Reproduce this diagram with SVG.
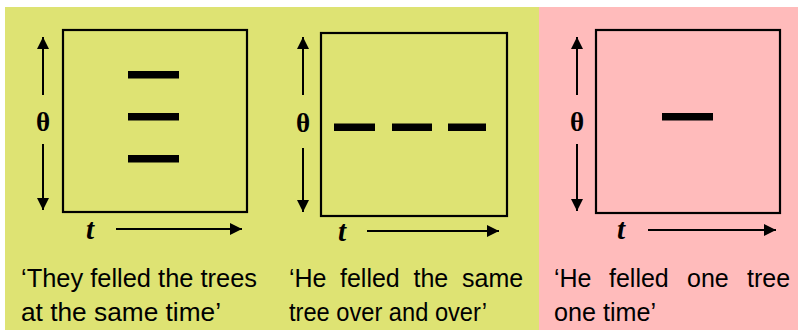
<svg xmlns="http://www.w3.org/2000/svg" width="798" height="330" viewBox="0 0 798 330">
  <defs>
    <marker id="ah" viewBox="0 0 12 12" markerWidth="12" markerHeight="12" markerUnits="userSpaceOnUse" refX="12" refY="6" orient="auto">
      <path d="M0,0 L12,6 L0,12 z" fill="#000"/>
    </marker>
    <style>
      .frame { fill: none; stroke: #000; stroke-width: 2.2; }
      .bar { fill: #000; }
      .ax { stroke: #000; stroke-width: 2; fill: none; marker-end: url(#ah); }
      .theta { font-family: "Liberation Serif", serif; font-weight: bold; font-size: 27px; text-anchor: middle; }
      .tt { font-family: "Liberation Serif", serif; font-weight: bold; font-style: italic; font-size: 29px; text-anchor: middle; }
      .cap { font-family: "Liberation Sans", "DejaVu Sans", sans-serif; font-size: 25px; fill: #000; }
    </style>
  </defs>
  <rect x="0" y="0" width="798" height="330" fill="#fff"/>
  <rect x="5" y="7" width="535" height="323" fill="#DEE373"/>
  <rect x="539" y="7" width="259" height="323" fill="#FFBBBB"/>

  <g id="panel1">
    <rect class="frame" x="63" y="30" width="184" height="182"/>
    <rect class="bar" x="128" y="71" width="51" height="7.5"/>
    <rect class="bar" x="128" y="113" width="51" height="7.5"/>
    <rect class="bar" x="128" y="155" width="51" height="7.5"/>
    <text class="theta" x="43" y="131">θ</text>
    <text class="tt" x="90" y="239">t</text>
    <text class="cap" x="21" y="287" textLength="236" lengthAdjust="spacingAndGlyphs">‘They felled the trees</text>
    <text class="cap" x="21" y="321" textLength="200" lengthAdjust="spacingAndGlyphs">at the same time’</text>
  </g>

  <g id="panel2">
    <rect class="frame" x="321" y="33" width="186" height="183"/>
    <rect class="bar" x="334" y="123.5" width="41" height="7.5"/>
    <rect class="bar" x="392" y="123.5" width="40" height="7.5"/>
    <rect class="bar" x="448" y="123.5" width="38" height="7.5"/>
    <text class="theta" x="303" y="132">θ</text>
    <text class="tt" x="342" y="241">t</text>
    <text class="cap" y="287"><tspan x="289">‘He</tspan> <tspan x="340">felled</tspan> <tspan x="413.5">the</tspan> <tspan x="462">same</tspan></text>
    <text class="cap" x="289" y="321" textLength="198" lengthAdjust="spacingAndGlyphs">tree over and over’</text>
  </g>

  <g id="panel3">
    <rect class="frame" x="596" y="30" width="184" height="183"/>
    <rect class="bar" x="662" y="113" width="51" height="7.5"/>
    <text class="theta" x="577" y="131">θ</text>
    <text class="tt" x="621" y="239">t</text>
    <text class="cap" y="287"><tspan x="554">‘He</tspan> <tspan x="609">felled</tspan> <tspan x="687">one</tspan> <tspan x="747">tree</tspan></text>
    <text class="cap" x="554" y="321" textLength="102" lengthAdjust="spacingAndGlyphs">one time’</text>
  </g>

  <g id="connectors">
    <line class="ax" x1="43" y1="95" x2="43" y2="37"/>
    <line class="ax" x1="43" y1="144" x2="43" y2="210"/>
    <line class="ax" x1="116" y1="229" x2="242" y2="229"/>
    <line class="ax" x1="303" y1="95" x2="303" y2="37"/>
    <line class="ax" x1="303" y1="148" x2="303" y2="212"/>
    <line class="ax" x1="367" y1="231" x2="499" y2="231"/>
    <line class="ax" x1="577" y1="95" x2="577" y2="37"/>
    <line class="ax" x1="577" y1="144" x2="577" y2="211"/>
    <line class="ax" x1="648" y1="230" x2="776" y2="230"/>
  </g>
</svg>
